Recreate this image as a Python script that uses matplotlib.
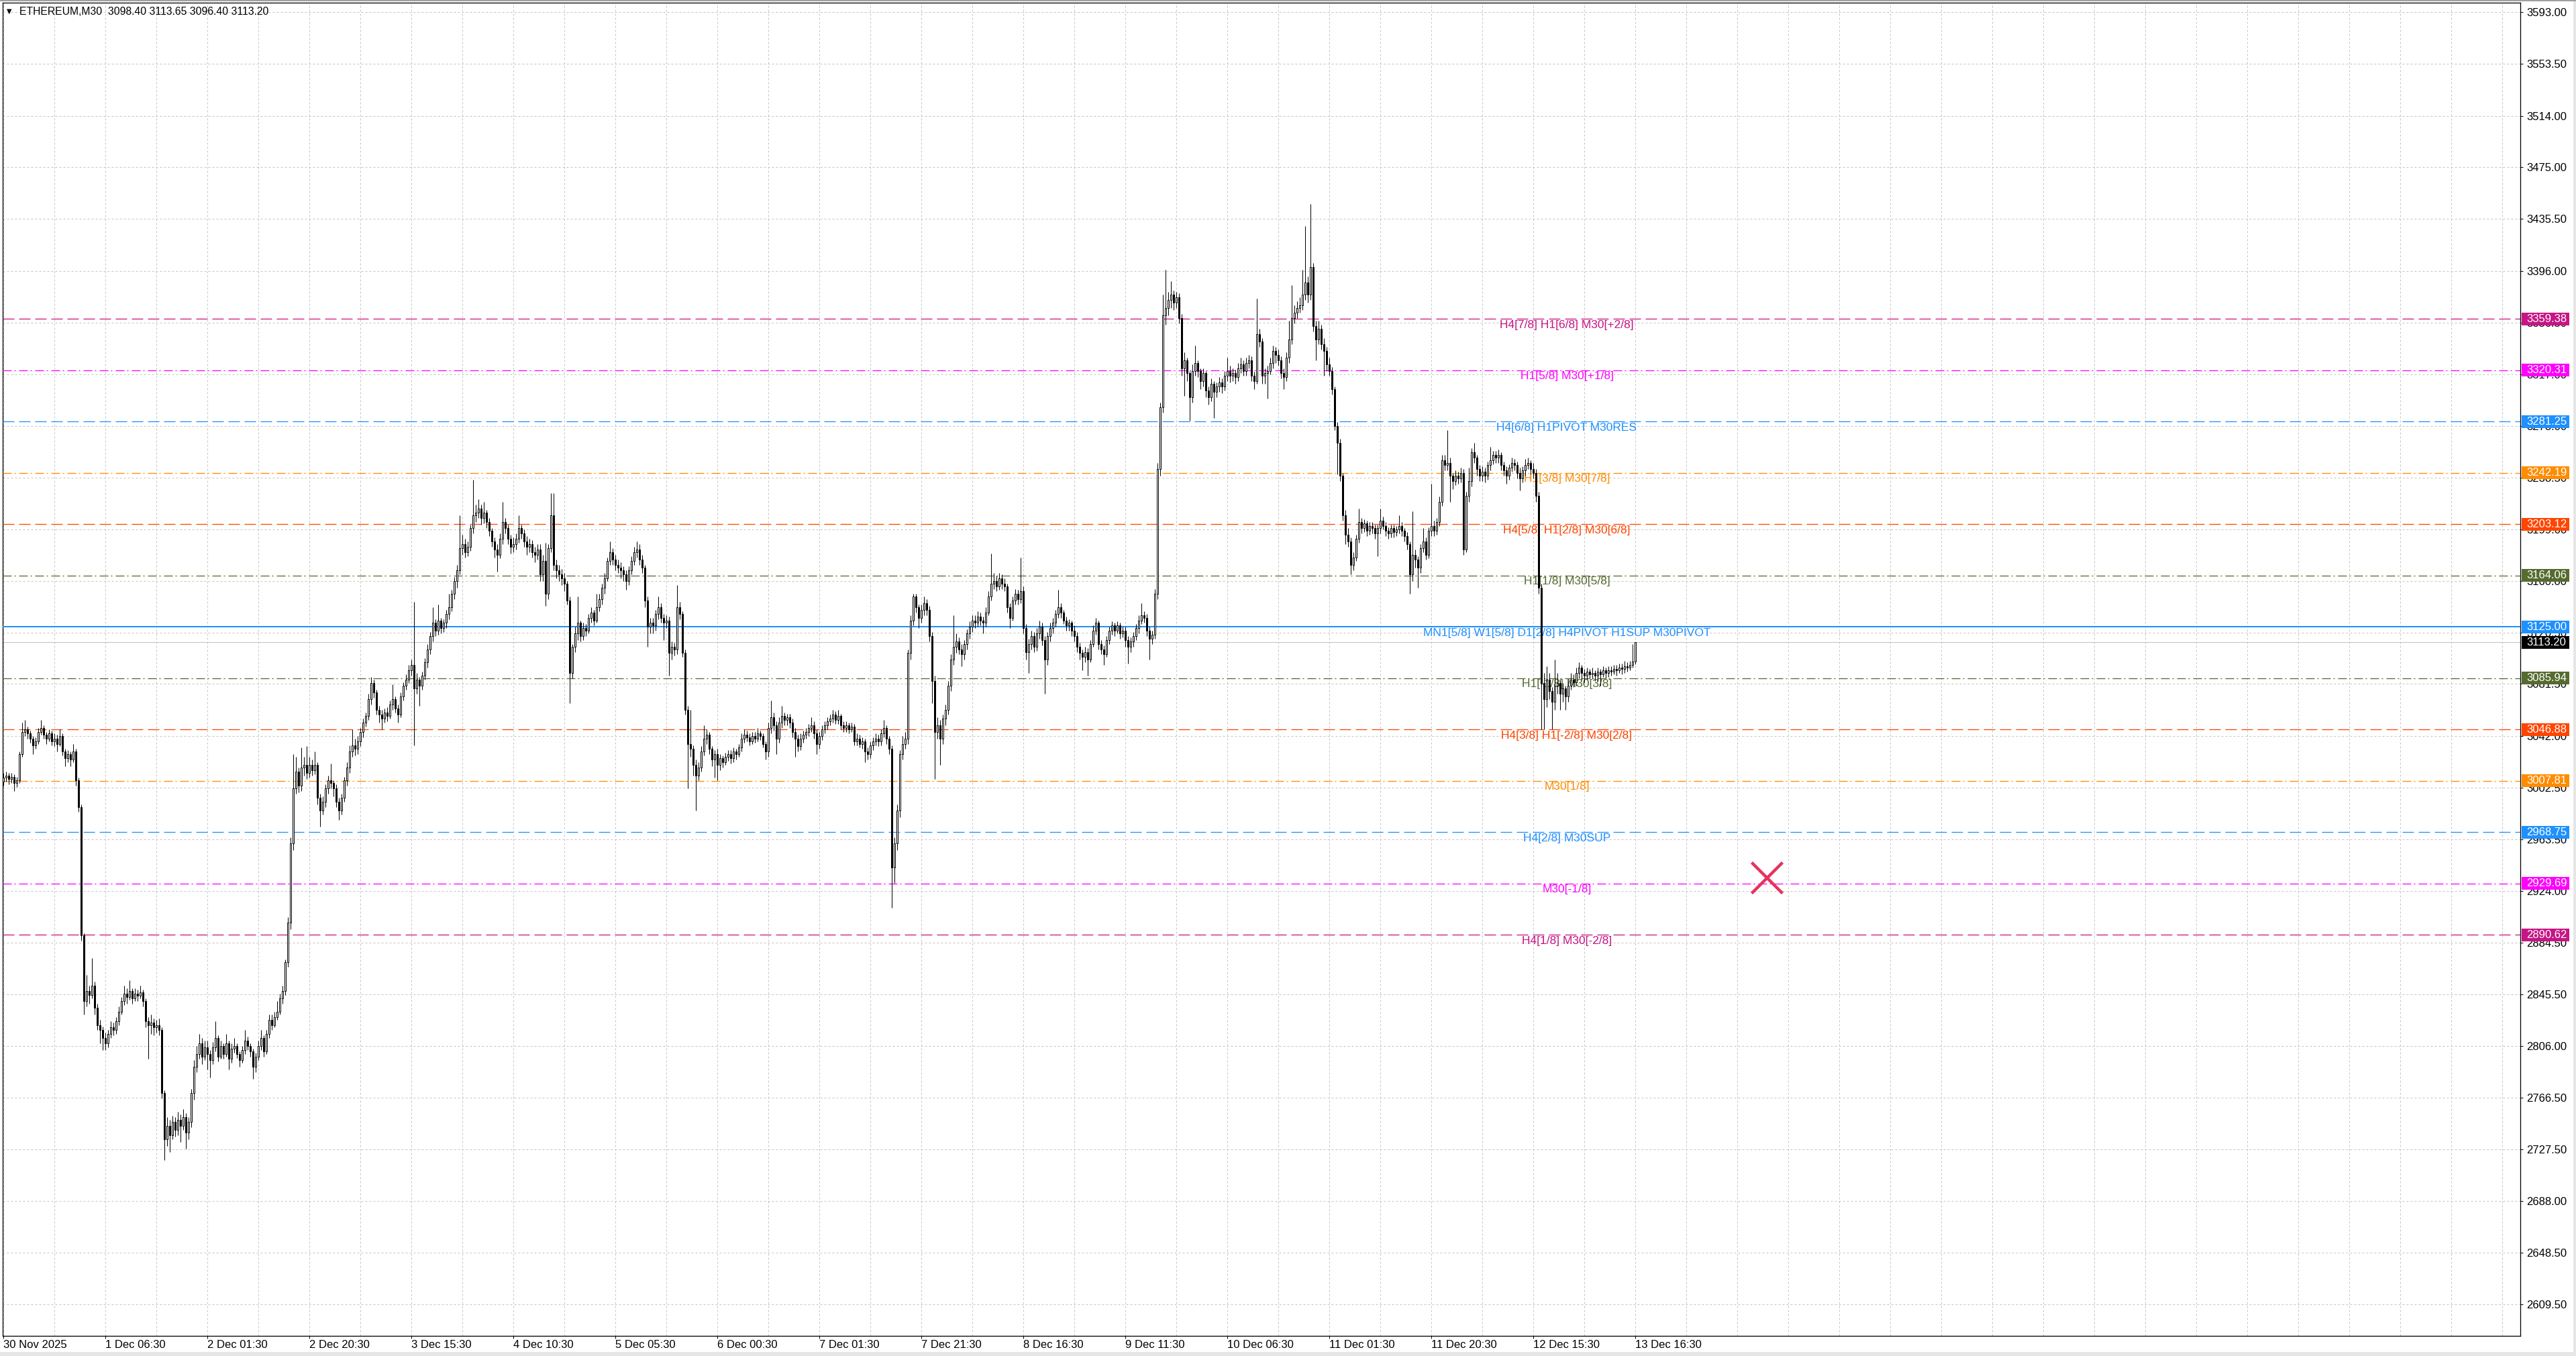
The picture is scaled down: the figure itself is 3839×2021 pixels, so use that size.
import numpy as np
import matplotlib
matplotlib.use("Agg")
import matplotlib.pyplot as plt
from matplotlib.patches import Rectangle

# output geometry in pixels
W, H, DPI = 3839, 2021, 100
PX = 72.0 / DPI  # points per pixel

plt.rcParams['font.family'] = ['Liberation Sans', 'DejaVu Sans']
plt.rcParams['lines.scale_dashes'] = False

symbol = 'ETHEREUM,M30'
first_open = 3007.0

# M30 closes, one row per 19 bars
close = [
    3010, 3012, 3009, 3011, 3006, 3008, 3028, 3045, 3047, 3044, 3040, 3035, 3038, 3045, 3048, 3043, 3040, 3044, 3038,
    3040, 3036, 3042, 3030, 3025, 3028, 3024, 3030, 3008, 2988, 2890, 2840, 2848, 2845, 2852, 2835, 2822, 2818, 2812,
    2808, 2815, 2820, 2818, 2825, 2832, 2840, 2846, 2843, 2848, 2842, 2846, 2844, 2847, 2840, 2825, 2822, 2824, 2820,
    2822, 2818, 2770, 2735, 2745, 2738, 2748, 2742, 2750, 2745, 2752, 2740, 2748, 2770, 2790, 2800, 2808, 2798, 2805,
    2800, 2795, 2805, 2812, 2798, 2806, 2800, 2808, 2796, 2804, 2806, 2800, 2795, 2803, 2810, 2806, 2802, 2790, 2798,
    2806, 2812, 2802, 2815, 2826, 2822, 2828, 2832, 2842, 2848, 2870, 2900, 2960, 3002, 3015, 3004, 3018, 3020, 3014,
    3020, 3016, 3020, 2995, 2985, 2992, 3002, 3008, 3006, 3002, 2992, 2985, 2995, 3008, 3018, 3030, 3035, 3032, 3038,
    3045, 3052, 3057, 3070, 3082, 3075, 3062, 3058, 3055, 3060, 3057, 3066, 3070, 3063, 3058, 3072, 3080, 3085, 3092,
    3096, 3078, 3085, 3080, 3088, 3098, 3108, 3118, 3128, 3122, 3130, 3124, 3128, 3135, 3140, 3150, 3160, 3168, 3185,
    3188, 3182, 3186, 3200, 3210, 3212, 3215, 3208, 3212, 3205, 3198, 3190, 3184, 3180, 3192, 3205, 3200, 3192, 3186,
    3188, 3192, 3200, 3196, 3190, 3186, 3188, 3182, 3180, 3184, 3165, 3175, 3150, 3185, 3210, 3172, 3168, 3165, 3162,
    3158, 3145, 3090, 3110, 3120, 3128, 3118, 3124, 3122, 3132, 3136, 3130, 3140, 3146, 3155, 3162, 3175, 3182, 3176,
    3172, 3170, 3168, 3165, 3160, 3168, 3175, 3182, 3184, 3176, 3170, 3145, 3125, 3128, 3126, 3135, 3140, 3132, 3128,
    3130, 3105, 3110, 3108, 3140, 3135, 3105, 3062, 3036, 3032, 3020, 3012, 3018, 3030, 3040, 3043, 3032, 3024, 3028,
    3020, 3025, 3022, 3026, 3028, 3025, 3030, 3028, 3033, 3040, 3043, 3041, 3038, 3042, 3040, 3044, 3042, 3036, 3030,
    3048, 3056, 3050, 3040, 3052, 3057, 3054, 3056, 3052, 3045, 3040, 3034, 3040, 3043, 3045, 3048, 3050, 3044, 3036,
    3042, 3047, 3050, 3053, 3055, 3058, 3054, 3057, 3050, 3048, 3050, 3047, 3049, 3038, 3040, 3036, 3038, 3030, 3028,
    3035, 3038, 3040, 3038, 3044, 3048, 3040, 3032, 2942, 2960, 2985, 3028, 3036, 3040, 3105, 3130, 3148, 3140, 3132,
    3138, 3143, 3138, 3118, 3084, 3045, 3050, 3040, 3055, 3062, 3080, 3100, 3110, 3114, 3108, 3104, 3112, 3120, 3125,
    3130, 3128, 3133, 3130, 3128, 3136, 3148, 3158, 3160, 3156, 3162, 3158, 3156, 3140, 3132, 3145, 3150, 3146, 3152,
    3124, 3106, 3112, 3118, 3110, 3120, 3125, 3115, 3100, 3118, 3124, 3128, 3135, 3140, 3136, 3130, 3126, 3128, 3122,
    3118, 3110, 3105, 3102, 3106, 3100, 3112, 3122, 3128, 3112, 3108, 3104, 3115, 3122, 3126, 3122, 3126, 3120, 3122,
    3115, 3110, 3114, 3118, 3124, 3130, 3134, 3132, 3122, 3116, 3119, 3150, 3245, 3292, 3362, 3368, 3374, 3378, 3372,
    3376, 3360, 3322, 3328, 3318, 3300, 3320, 3326, 3320, 3312, 3318, 3305, 3300, 3310, 3304, 3308, 3311, 3308, 3316,
    3320, 3316, 3318, 3315, 3322, 3325, 3320, 3326, 3328, 3316, 3312, 3348, 3342, 3316, 3318, 3320, 3326, 3335, 3332,
    3328, 3318, 3315, 3330, 3344, 3360, 3364, 3368, 3370, 3378, 3387, 3378, 3399, 3354, 3344, 3352, 3340, 3335, 3325,
    3320, 3306, 3278, 3265, 3240, 3210, 3195, 3190, 3172, 3178, 3192, 3205, 3200, 3204, 3198, 3202, 3200, 3196, 3200,
    3206, 3202, 3198, 3196, 3200, 3197, 3199, 3202, 3198, 3194, 3188, 3165, 3180, 3176, 3170, 3185, 3190, 3180, 3198,
    3202, 3198, 3205, 3220, 3252, 3248, 3250, 3240, 3236, 3240, 3238, 3242, 3184, 3225, 3236, 3258, 3254, 3245, 3240,
    3243, 3240, 3248, 3252, 3256, 3254, 3256, 3248, 3244, 3240, 3246, 3250, 3248, 3242, 3238, 3244, 3248, 3250, 3245,
    3242, 3225, 3155, 3082, 3070, 3085, 3076, 3068, 3080, 3082, 3074, 3078, 3072, 3080, 3085, 3083, 3090, 3094, 3090,
    3088, 3091, 3089, 3090, 3088, 3091, 3089, 3092, 3090, 3092, 3091, 3093, 3092, 3094, 3093, 3095, 3094, 3096, 3098.4, 3113.2,
]

high = [
    3014, 3015, 3014, 3014, 3013, 3011, 3030, 3052, 3054, 3049, 3046, 3042, 3041, 3048, 3054, 3050, 3045, 3047, 3046,
    3044, 3043, 3047, 3044, 3032, 3031, 3030, 3036, 3032, 3010, 2990, 2892, 2860, 2852, 2873, 2855, 2838, 2826, 2821,
    2816, 2818, 2825, 2824, 2828, 2836, 2843, 2852, 2850, 2856, 2850, 2850, 2849, 2852, 2849, 2842, 2828, 2830, 2827,
    2826, 2827, 2820, 2772, 2752, 2750, 2753, 2752, 2756, 2754, 2758, 2755, 2752, 2773, 2795, 2806, 2815, 2812, 2810,
    2810, 2803, 2809, 2825, 2814, 2810, 2808, 2815, 2810, 2808, 2812, 2808, 2802, 2806, 2818, 2813, 2808, 2804, 2801,
    2810, 2818, 2814, 2818, 2830, 2830, 2832, 2840, 2846, 2852, 2872, 2904, 2965, 3028, 3026, 3018, 3033, 3026, 3034,
    3026, 3024, 3030, 3022, 2998, 2996, 3005, 3012, 3021, 3008, 3005, 2995, 2998, 3011, 3022, 3035, 3047, 3040, 3042,
    3048, 3055, 3060, 3074, 3087, 3085, 3077, 3065, 3062, 3063, 3064, 3069, 3081, 3072, 3066, 3075, 3083, 3089, 3096,
    3100, 3144, 3090, 3087, 3091, 3101, 3112, 3121, 3140, 3131, 3142, 3132, 3131, 3138, 3150, 3153, 3163, 3172, 3210,
    3195, 3192, 3190, 3203, 3237, 3218, 3222, 3218, 3220, 3214, 3208, 3200, 3193, 3188, 3196, 3220, 3208, 3203, 3195,
    3193, 3196, 3210, 3203, 3199, 3194, 3192, 3191, 3186, 3188, 3188, 3180, 3189, 3188, 3227, 3227, 3176, 3172, 3169,
    3166, 3160, 3148, 3112, 3125, 3148, 3130, 3128, 3127, 3135, 3140, 3138, 3150, 3150, 3158, 3166, 3178, 3190, 3185,
    3180, 3176, 3174, 3171, 3168, 3171, 3179, 3186, 3190, 3188, 3180, 3172, 3148, 3132, 3132, 3138, 3148, 3143, 3135,
    3134, 3133, 3114, 3113, 3157, 3144, 3137, 3108, 3065, 3062, 3035, 3024, 3022, 3034, 3050, 3047, 3045, 3034, 3031,
    3032, 3028, 3027, 3029, 3031, 3031, 3033, 3032, 3036, 3044, 3047, 3046, 3044, 3045, 3045, 3048, 3046, 3044, 3038,
    3052, 3069, 3060, 3053, 3056, 3065, 3060, 3059, 3059, 3055, 3048, 3043, 3044, 3046, 3048, 3051, 3056, 3053, 3047,
    3045, 3050, 3053, 3056, 3058, 3062, 3061, 3062, 3059, 3053, 3053, 3052, 3052, 3051, 3044, 3043, 3041, 3040, 3033,
    3038, 3041, 3044, 3043, 3047, 3054, 3050, 3042, 3035, 2965, 2990, 3031, 3042, 3045, 3108, 3134, 3150, 3150, 3142,
    3142, 3148, 3146, 3141, 3121, 3088, 3056, 3054, 3058, 3066, 3084, 3104, 3134, 3120, 3117, 3112, 3115, 3123, 3129,
    3134, 3134, 3137, 3136, 3133, 3140, 3152, 3181, 3166, 3164, 3166, 3165, 3162, 3158, 3143, 3148, 3154, 3153, 3178,
    3156, 3127, 3116, 3122, 3121, 3124, 3130, 3128, 3118, 3121, 3128, 3132, 3138, 3153, 3143, 3138, 3133, 3131, 3130,
    3126, 3121, 3113, 3108, 3110, 3109, 3115, 3126, 3132, 3130, 3115, 3111, 3118, 3125, 3129, 3128, 3129, 3128, 3125,
    3125, 3118, 3117, 3121, 3127, 3134, 3143, 3137, 3135, 3125, 3122, 3154, 3250, 3296, 3378, 3397, 3380, 3388, 3381,
    3380, 3379, 3363, 3334, 3330, 3320, 3325, 3339, 3328, 3322, 3322, 3320, 3308, 3314, 3312, 3311, 3315, 3314, 3320,
    3330, 3324, 3322, 3321, 3326, 3330, 3328, 3330, 3332, 3331, 3319, 3375, 3352, 3345, 3322, 3324, 3330, 3339, 3338,
    3336, 3331, 3322, 3334, 3358, 3385, 3370, 3373, 3376, 3397, 3430, 3392, 3447, 3402, 3358, 3358, 3355, 3345, 3338,
    3330, 3323, 3308, 3281, 3268, 3242, 3214, 3200, 3193, 3182, 3195, 3215, 3208, 3207, 3206, 3205, 3205, 3203, 3203,
    3215, 3209, 3205, 3201, 3203, 3203, 3202, 3210, 3205, 3200, 3197, 3190, 3213, 3184, 3179, 3188, 3200, 3193, 3201,
    3234, 3206, 3208, 3224, 3256, 3256, 3275, 3254, 3242, 3244, 3243, 3246, 3245, 3228, 3246, 3261, 3265, 3256, 3248,
    3247, 3246, 3251, 3262, 3259, 3259, 3260, 3258, 3251, 3247, 3249, 3254, 3253, 3251, 3246, 3247, 3253, 3254, 3252,
    3250, 3245, 3228, 3158, 3090, 3095, 3090, 3079, 3100, 3090, 3085, 3082, 3080, 3084, 3090, 3089, 3094, 3098, 3096,
    3093, 3094, 3093, 3094, 3092, 3094, 3093, 3095, 3094, 3095, 3095, 3096, 3096, 3097, 3097, 3099, 3098, 3099, 3112, 3113.65,
]

low = [
    3004, 3007, 3005, 3006, 3000, 3003, 3006, 3026, 3042, 3040, 3037, 3028, 3032, 3036, 3043, 3040, 3036, 3038, 3035,
    3034, 3030, 3034, 3027, 3019, 3022, 3019, 3022, 3004, 2984, 2886, 2830, 2836, 2838, 2842, 2830, 2818, 2808, 2803,
    2803, 2805, 2812, 2814, 2815, 2822, 2830, 2837, 2838, 2841, 2838, 2840, 2840, 2842, 2836, 2820, 2796, 2815, 2814,
    2816, 2814, 2766, 2719, 2730, 2725, 2735, 2737, 2738, 2733, 2742, 2728, 2735, 2744, 2765, 2786, 2796, 2792, 2795,
    2788, 2782, 2792, 2802, 2794, 2796, 2796, 2798, 2788, 2793, 2801, 2797, 2790, 2793, 2800, 2803, 2798, 2781, 2786,
    2795, 2803, 2798, 2800, 2812, 2818, 2820, 2826, 2830, 2838, 2845, 2866, 2895, 2955, 2998, 2999, 3000, 3012, 3009,
    3010, 3012, 3013, 2990, 2973, 2982, 2988, 2998, 3002, 2996, 2988, 2978, 2982, 2992, 3004, 3014, 3026, 3027, 3028,
    3034, 3041, 3049, 3054, 3066, 3071, 3058, 3052, 3047, 3052, 3053, 3055, 3062, 3060, 3052, 3056, 3069, 3077, 3082,
    3088, 3035, 3074, 3065, 3077, 3085, 3094, 3104, 3114, 3118, 3119, 3120, 3121, 3124, 3131, 3137, 3146, 3155, 3165,
    3180, 3178, 3179, 3183, 3196, 3205, 3208, 3203, 3204, 3200, 3194, 3186, 3178, 3167, 3177, 3188, 3196, 3188, 3181,
    3182, 3184, 3189, 3192, 3186, 3180, 3182, 3178, 3174, 3176, 3160, 3160, 3141, 3146, 3182, 3168, 3162, 3160, 3157,
    3152, 3142, 3067, 3086, 3106, 3115, 3114, 3115, 3118, 3120, 3128, 3126, 3128, 3137, 3142, 3150, 3160, 3172, 3172,
    3168, 3166, 3162, 3160, 3153, 3157, 3165, 3172, 3178, 3172, 3166, 3140, 3110, 3120, 3120, 3122, 3131, 3128, 3115,
    3124, 3088, 3100, 3103, 3104, 3131, 3102, 3058, 3002, 3026, 3012, 2985, 3008, 3015, 3027, 3036, 3028, 3019, 3010,
    3008, 3016, 3018, 3020, 3023, 3021, 3022, 3024, 3026, 3030, 3037, 3038, 3035, 3036, 3037, 3038, 3039, 3033, 3024,
    3026, 3044, 3046, 3028, 3037, 3048, 3050, 3050, 3048, 3041, 3026, 3030, 3031, 3037, 3040, 3042, 3045, 3040, 3028,
    3032, 3039, 3044, 3047, 3050, 3052, 3051, 3051, 3047, 3045, 3045, 3044, 3045, 3035, 3035, 3033, 3032, 3022, 3024,
    3025, 3031, 3035, 3034, 3035, 3041, 3036, 3028, 2911, 2930, 2955, 2980, 3024, 3032, 3036, 3100, 3126, 3136, 3124,
    3128, 3134, 3134, 3114, 3067, 3009, 3040, 3020, 3036, 3050, 3058, 3076, 3096, 3105, 3104, 3095, 3100, 3108, 3116,
    3121, 3124, 3125, 3126, 3120, 3125, 3134, 3145, 3154, 3152, 3153, 3154, 3152, 3136, 3124, 3130, 3142, 3142, 3143,
    3120, 3100, 3090, 3108, 3106, 3107, 3116, 3111, 3074, 3096, 3114, 3120, 3125, 3132, 3132, 3127, 3122, 3122, 3118,
    3114, 3106, 3100, 3092, 3098, 3088, 3098, 3110, 3119, 3108, 3104, 3096, 3102, 3112, 3119, 3118, 3120, 3116, 3117,
    3110, 3097, 3106, 3110, 3115, 3120, 3127, 3128, 3118, 3100, 3112, 3116, 3146, 3240, 3288, 3355, 3362, 3368, 3366,
    3368, 3356, 3316, 3301, 3312, 3282, 3296, 3316, 3315, 3306, 3308, 3300, 3294, 3297, 3284, 3300, 3304, 3303, 3305,
    3312, 3311, 3312, 3310, 3312, 3318, 3316, 3316, 3322, 3312, 3306, 3310, 3338, 3310, 3310, 3299, 3317, 3322, 3326,
    3324, 3314, 3306, 3312, 3326, 3340, 3356, 3360, 3364, 3366, 3374, 3372, 3374, 3350, 3328, 3340, 3336, 3316, 3320,
    3316, 3302, 3275, 3241, 3236, 3206, 3188, 3186, 3165, 3168, 3175, 3189, 3196, 3197, 3194, 3195, 3196, 3192, 3179,
    3196, 3199, 3194, 3192, 3193, 3193, 3194, 3196, 3194, 3190, 3184, 3150, 3160, 3170, 3155, 3166, 3182, 3176, 3177,
    3194, 3194, 3195, 3202, 3217, 3244, 3244, 3220, 3230, 3233, 3234, 3235, 3180, 3182, 3220, 3232, 3250, 3240, 3236,
    3236, 3235, 3237, 3244, 3249, 3250, 3250, 3244, 3240, 3234, 3237, 3243, 3244, 3238, 3229, 3235, 3240, 3245, 3241,
    3238, 3220, 3150, 3047, 3047, 3064, 3070, 3047, 3062, 3074, 3062, 3068, 3062, 3068, 3077, 3079, 3080, 3086, 3085,
    3083, 3085, 3086, 3086, 3084, 3084, 3080, 3087, 3086, 3087, 3088, 3089, 3088, 3090, 3089, 3090, 3091, 3092, 3094, 3096.4,
]

time_labels = ['30 Nov 2025', '1 Dec 06:30', '2 Dec 01:30', '2 Dec 20:30', '3 Dec 15:30',
               '4 Dec 10:30', '5 Dec 05:30', '6 Dec 00:30', '7 Dec 01:30', '7 Dec 21:30',
               '8 Dec 16:30', '9 Dec 11:30', '10 Dec 06:30', '11 Dec 01:30', '11 Dec 20:30',
               '12 Dec 15:30', '13 Dec 16:30']
bars_per_label = 38

price_ticks = [3593.00, 3553.50, 3514.00, 3475.00, 3435.50, 3396.00, 3356.50, 3317.00, 3278.00,
               3238.50, 3199.00, 3160.00, 3120.50, 3081.50, 3042.00, 3002.50, 2963.50, 2924.00,
               2884.50, 2845.50, 2806.00, 2766.50, 2727.50, 2688.00, 2648.50, 2609.50]

# Murrey math levels
levels = [3359.38, 3320.31, 3281.25, 3242.19, 3203.12, 3164.06, 3125.00,
          3085.94, 3046.88, 3007.81, 2968.75, 2929.69, 2890.62]
level_names = ['H4[7/8] H1[6/8] M30[+2/8]', 'H1[5/8] M30[+1/8]', 'H4[6/8] H1PIVOT M30RES',
               'H1[3/8] M30[7/8]', 'H4[5/8] H1[2/8] M30[6/8]', 'H1[1/8] M30[5/8]',
               'MN1[5/8] W1[5/8] D1[2/8] H4PIVOT H1SUP M30PIVOT',
               'H1[-1/8] M30[3/8]', 'H4[3/8] H1[-2/8] M30[2/8]', 'M30[1/8]',
               'H4[2/8] M30SUP', 'M30[-1/8]', 'H4[1/8] M30[-2/8]']
level_colors = ['#C71585', '#FF00FF', '#1E90FF', '#FF8C00', '#FF4500', '#556B2F', '#1E90FF',
                '#556B2F', '#FF4500', '#FF8C00', '#1E90FF', '#FF00FF', '#C71585']
level_styles = ['dash', 'dashdot', 'dash', 'dashdot', 'dash', 'dashdot', 'solid',
                'dashdot', 'dash', 'dashdot', 'dash', 'dashdot', 'dash']

label_bar = 582.5
cross_bar, cross_price = 657, 2934

dash_map = {
    'dash': (0, (17 * PX, 7 * PX)),
    'dashdot': (0, (13 * PX, 4 * PX, 2 * PX, 5 * PX)),
    'solid': '-',
}

fig = plt.figure(figsize=(W / DPI, H / DPI), dpi=DPI, facecolor='white')
ax = fig.add_axes([4 / W, 30 / H, 3752 / W, 1987 / H])
ax.set_xlim(-0.25, 937.75)
ax.set_ylim(2585.3, 3600.15)

# grid
n_bars = len(close)
major = [i * bars_per_label for i in range(len(time_labels))]
minor = [b for b in range(19, 938, 19) if b not in major]
ax.set_xticks(major)
ax.set_xticklabels(time_labels)
ax.set_xticks(minor, minor=True)
ax.set_yticks(price_ticks)
ax.set_yticklabels([f'{v:.2f}' for v in price_ticks])
ax.yaxis.tick_right()
ax.set_axisbelow(True)
ax.grid(True, which='both', color='#C4C4C4', lw=PX, ls=(0, (3 * PX, 3 * PX)))
ax.tick_params(axis='x', which='major', length=4 * PX, width=PX, pad=2 * PX, labelsize=12)
ax.tick_params(axis='x', which='minor', length=0)
ax.tick_params(axis='y', length=4 * PX, width=PX, pad=5 * PX, labelsize=12)
for lab in ax.get_xticklabels():
    lab.set_horizontalalignment('left')
for sp in ax.spines.values():
    sp.set_linewidth(1.3 * PX)
    sp.set_color('black')

# level lines and labels
for lvl, name, col, sty in zip(levels, level_names, level_colors, level_styles):
    lw = 2 * PX if sty == 'solid' else 1.3 * PX
    ax.axhline(lvl, color=col, lw=lw, ls=dash_map[sty], zorder=3)
    ax.annotate(name, xy=(label_bar, lvl), xytext=(0, -9 * PX), textcoords='offset points',
                ha='center', va='center', color=col, fontsize=12.5, zorder=4)

last_price = close[-1]
ax.axhline(last_price, color='#C0C0C0', lw=PX, zorder=2)

# candles
x = np.arange(n_bars)
c = np.array(close, dtype=float)
o = np.array([first_open] + close[:-1], dtype=float)
hi = np.maximum(np.array(high, dtype=float), np.maximum(o, c))
lo = np.minimum(np.array(low, dtype=float), np.minimum(o, c))
up = c >= o
ax.vlines(x, lo, hi, color='black', lw=PX, zorder=5)
ax.bar(x[up], (c - o)[up], bottom=o[up], width=0.6, color='white',
       edgecolor='black', linewidth=PX, zorder=6)
ax.bar(x[~up], (o - c)[~up], bottom=c[~up], width=0.6, color='black',
       edgecolor='black', linewidth=PX, zorder=6)

# red cross mark
ax.plot([cross_bar], [cross_price], marker='x', ms=46 * PX, mew=4.5 * PX,
        color='#E6335C', zorder=8, clip_on=False)

# price tags on the right scale
ytr = ax.get_yaxis_transform()
box_w = 71 / 3752
box_h = 19 / 1.958
tags = list(zip(levels, level_colors)) + [(last_price, 'black')]
for val, col in tags:
    ax.add_patch(Rectangle((1.0006, val - box_h / 2), box_w, box_h, transform=ytr,
                           facecolor=col, edgecolor='none', clip_on=False, zorder=10))
    ax.text(1.0024, val, f'{val:.2f}', transform=ytr, color='white', fontsize=12,
            ha='left', va='center', zorder=11, clip_on=False)

# header
fig.text(10 / W, 1 - 17 / H, '\u25bc', family='DejaVu Sans', fontsize=7,
         ha='left', va='center')
header = f'{symbol}  {o[-1]:.2f} {hi[-1]:.2f} {lo[-1]:.2f} {c[-1]:.2f}'
fig.text(29 / W, 1 - 17 / H, header, fontsize=11.3, ha='left', va='center')

# window border strips
fig.patches.append(Rectangle((0, 0), 1, 6 / H, transform=fig.transFigure,
                             facecolor='#E6E6E6', edgecolor='none'))
fig.patches.append(Rectangle((1 - 4 / W, 0), 4 / W, 1, transform=fig.transFigure,
                             facecolor='#E6E6E6', edgecolor='none'))
fig.patches.append(Rectangle((0, 1 - 2 / H), 1, 2 / H, transform=fig.transFigure,
                             facecolor='#A0A0A0', edgecolor='none'))

fig.savefig('out.png', dpi=DPI, facecolor='white')
